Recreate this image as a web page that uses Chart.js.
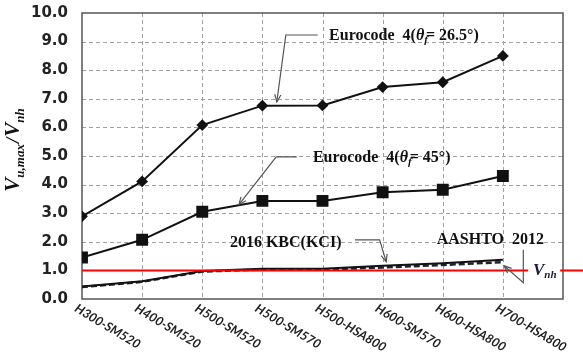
<!DOCTYPE html>
<html><head><meta charset="utf-8">
<script src="https://cdn.jsdelivr.net/npm/chart.js@4/dist/chart.umd.min.js"></script>
<style>html,body{margin:0;padding:0;background:#fff}</style>
</head><body>
<canvas id="c" width="583" height="352"></canvas>
<script>
// Section names along the x axis
const categories = ['H300-SM520', 'H400-SM520', 'H500-SM520', 'H500-SM570',
  'H500-HSA800', 'H600-SM570', 'H600-HSA800', 'H700-HSA800'];

// Ratio Vu,max / Vnh for each design code
const eurocode265 = [2.89, 4.11, 6.08, 6.76, 6.77, 7.41, 7.58, 8.50];
const eurocode45 = [1.45, 2.07, 3.05, 3.43, 3.43, 3.73, 3.82, 4.30];
const kbc2016 = [0.44, 0.62, 0.98, 1.06, 1.06, 1.16, 1.25, 1.37];
const aashto2012 = [0.42, 0.60, 0.96, 1.03, 1.03, 1.10, 1.19, 1.29];

// Reference level Vnh and axis ticks
const vnhLevel = 1.0;
const yTicks = [0, 1, 2, 3, 4, 5, 6, 7, 8, 9, 10];

const pts = arr => arr.map((v, i) => ({ x: i, y: v }));
const SERIF = '"Liberation Serif", "Times New Roman", serif';

function drawArrow(ctx, path) {
  ctx.beginPath();
  ctx.moveTo(path[0][0], path[0][1]);
  for (let i = 1; i < path.length; i++) ctx.lineTo(path[i][0], path[i][1]);
  ctx.stroke();
  const [x1, y1] = path[path.length - 2];
  const [x2, y2] = path[path.length - 1];
  const a = Math.atan2(y2 - y1, x2 - x1);
  const L = 8, s = 0.4;
  ctx.beginPath();
  ctx.moveTo(x2 - L * Math.cos(a - s), y2 - L * Math.sin(a - s));
  ctx.lineTo(x2, y2);
  ctx.lineTo(x2 - L * Math.cos(a + s), y2 - L * Math.sin(a + s));
  ctx.stroke();
}

// Draws a run of text pieces (some subscripted) starting at x, baseline y
function drawRich(ctx, parts, x, y) {
  ctx.textAlign = 'left';
  ctx.textBaseline = 'alphabetic';
  for (const p of parts) {
    ctx.font = p.font;
    ctx.fillText(p.t, x, y + (p.dy || 0));
    x += ctx.measureText(p.t).width + (p.gap || 0);
  }
  return x;
}
function richWidth(ctx, parts) {
  let w = 0;
  for (const p of parts) { ctx.font = p.font; w += ctx.measureText(p.t).width + (p.gap || 0); }
  return w;
}

const decorations = {
  id: 'decorations',
  beforeDatasetsDraw(chart) {
    const { ctx, chartArea: a, scales: { x, y } } = chart;
    ctx.save();
    // Dashed grid from the scale ticks
    ctx.strokeStyle = '#a0a0a0';
    ctx.lineWidth = 1;
    ctx.setLineDash([4, 3]);
    y.ticks.forEach(t => {
      if (t.value <= y.min || t.value >= y.max) return;
      const py = Math.round(y.getPixelForValue(t.value)) + 0.5;
      ctx.beginPath(); ctx.moveTo(a.left, py); ctx.lineTo(a.right, py); ctx.stroke();
    });
    x.ticks.forEach(t => {
      if (t.value <= x.min || t.value >= x.max) return;
      const px = Math.round(x.getPixelForValue(t.value)) + 0.5;
      ctx.beginPath(); ctx.moveTo(px, a.top); ctx.lineTo(px, a.bottom); ctx.stroke();
    });
    ctx.setLineDash([]);
    ctx.strokeStyle = '#555';
    ctx.lineWidth = 1.5;
    ctx.strokeRect(a.left, a.top, a.right - a.left, a.bottom - a.top);
    ctx.restore();
  },
  afterDatasetsDraw(chart) {
    const { ctx, chartArea: a, scales: { x, y } } = chart;
    const X = v => x.getPixelForValue(v), Y = v => y.getPixelForValue(v);
    ctx.save();

    // Vnh reference line
    const yv = Y(vnhLevel);
    ctx.strokeStyle = '#ff0000';
    ctx.lineWidth = 2;
    ctx.beginPath();
    ctx.moveTo(a.left, yv);
    ctx.lineTo(chart.width, yv);
    ctx.stroke();

    // Vnh label on a white patch
    ctx.fillStyle = '#fff';
    ctx.fillRect(X(7.42), yv - 12, 32, 22);
    ctx.fillStyle = '#1a1a40';
    drawRich(ctx, [
      { t: 'V', font: `bold italic 17px ${SERIF}` },
      { t: 'nh', font: `bold italic 11px ${SERIF}`, dy: 3 }
    ], X(7.50), Y(0.85));

    // Callouts
    ctx.fillStyle = '#111';
    const big = `bold 16px ${SERIF}`;
    const it = `bold italic 16px ${SERIF}`;
    const sub = `bold italic 11px ${SERIF}`;
    drawRich(ctx, [
      { t: 'Eurocode  4(', font: big }, { t: 'θ', font: it },
      { t: 'f', font: sub, dy: 3, gap: -2 }, { t: '= 26.5°)', font: big }
    ], X(4.11), Y(9.06));
    drawRich(ctx, [
      { t: 'Eurocode  4(', font: big }, { t: 'θ', font: it },
      { t: 'f', font: sub, dy: 3, gap: -2 }, { t: '= 45°)', font: big }
    ], X(3.84), Y(4.80));
    drawRich(ctx, [{ t: '2016 KBC(KCI)', font: big }], X(2.46), Y(1.83));
    drawRich(ctx, [{ t: 'AASHTO  2012', font: big }], X(5.90), Y(1.93));

    ctx.strokeStyle = '#555';
    ctx.lineWidth = 1.2;
    drawArrow(ctx, [[X(3.92), Y(9.23)], [X(3.39), Y(9.23)], [X(3.24), Y(6.89)]]);
    drawArrow(ctx, [[X(3.57), Y(4.97)], [X(3.23), Y(4.97)], [X(2.61), Y(3.30)]]);
    drawArrow(ctx, [[X(4.54), Y(2.07)], [X(4.95), Y(2.07)], [X(5.06), Y(1.30)]]);
    drawArrow(ctx, [[X(7.34), Y(1.72)], [X(7.34), Y(0.57)], [X(7.02), Y(1.16)]]);
    ctx.restore();
  },
  afterDraw(chart) {
    const { ctx, chartArea: a, scales: { x } } = chart;
    ctx.save();
    // Slanted category labels
    ctx.fillStyle = '#222';
    ctx.font = 'bold italic 12.5px Lato, "Open Sans", sans-serif';
    ctx.textAlign = 'left';
    ctx.textBaseline = 'top';
    categories.forEach((c, i) => {
      ctx.save();
      ctx.translate(x.getPixelForValue(i) - 3, a.bottom + 3);
      ctx.rotate(31 * Math.PI / 180);
      ctx.fillText(c, 0, 0);
      ctx.restore();
    });

    // Y axis title: Vu,max / Vnh
    const parts = [
      { t: 'V', font: `bold italic 21px ${SERIF}` },
      { t: 'u,max', font: `bold italic 13px ${SERIF}`, dy: 5, gap: 1 },
      { t: '/', font: `bold italic 19px ${SERIF}`, gap: 1 },
      { t: 'V', font: `bold italic 21px ${SERIF}` },
      { t: 'nh', font: `bold italic 13px ${SERIF}`, dy: 5 }
    ];
    const w = richWidth(ctx, parts);
    ctx.translate(19, 150);
    ctx.rotate(-Math.PI / 2);
    ctx.fillStyle = '#111';
    drawRich(ctx, parts, -w / 2, 0);
    ctx.restore();
  }
};

new Chart(document.getElementById('c'), {
  type: 'line',
  data: {
    datasets: [
      { label: 'Eurocode 4 (26.5°)', data: pts(eurocode265), borderColor: '#111', backgroundColor: '#111',
        borderWidth: 2, pointStyle: 'rectRot', pointRadius: 4.5, tension: 0 },
      { label: 'Eurocode 4 (45°)', data: pts(eurocode45), borderColor: '#111', backgroundColor: '#111',
        borderWidth: 2, pointStyle: 'rect', pointRadius: 7, tension: 0 },
      { label: '2016 KBC(KCI)', data: pts(kbc2016), borderColor: '#111', borderWidth: 2,
        pointRadius: 0, tension: 0 },
      { label: 'AASHTO 2012', data: pts(aashto2012), borderColor: '#222', borderWidth: 2.5,
        borderDash: [6, 3], pointRadius: 0, tension: 0 }
    ]
  },
  options: {
    responsive: false,
    animation: false,
    devicePixelRatio: 1,
    layout: { padding: { left: 0, top: 13, right: 20, bottom: 53 } },
    plugins: { legend: { display: false }, tooltip: { enabled: false } },
    scales: {
      x: {
        type: 'linear', min: 0, max: categories.length,
        ticks: { display: false, stepSize: 1 },
        grid: { display: false, drawTicks: false },
        border: { display: false },
        afterFit(s) { s.height = 0; s.paddingLeft = 0; s.paddingRight = 0; }
      },
      y: {
        min: 0, max: 10,
        afterBuildTicks(s) { s.ticks = yTicks.map(v => ({ value: v })); },
        ticks: {
          padding: 14, color: '#222',
          font: { family: '"DejaVu Sans", Verdana, sans-serif', weight: 'bold', size: 15 },
          callback: v => v.toFixed(1)
        },
        grid: { display: false, drawTicks: false },
        border: { display: false },
        afterFit(s) { s.width = 82; s.paddingTop = 0; s.paddingBottom = 0; }
      }
    }
  },
  plugins: [decorations]
});
</script>
</body></html>
